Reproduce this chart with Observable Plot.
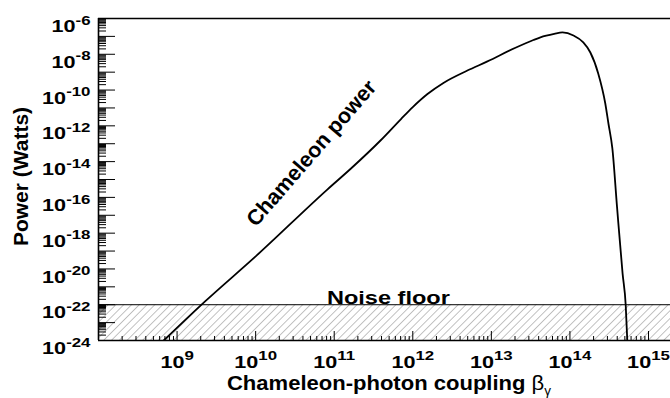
<!DOCTYPE html>
<html><head><meta charset="utf-8">
<script src="https://cdn.jsdelivr.net/npm/d3@7"></script>
<script src="https://cdn.jsdelivr.net/npm/@observablehq/plot@0.6"></script>
<style>body{margin:0;background:#fff} svg{display:block}</style>
</head><body><div id="chart"></div>
<script>
// log10 of chameleon-photon coupling
const couplingExp = [8.83, 9.36, 10.0, 10.915, 11.21, 11.589, 11.85, 12.0, 12.187, 12.39, 12.695, 12.95, 13.3, 13.535, 13.625, 13.8, 13.905, 14.045, 14.17, 14.26, 14.36, 14.45, 14.49, 14.54, 14.60, 14.67, 14.71, 14.73];
// log10 of power (W)
const powerExp    = [-24, -21.8, -19.3, -15.55, -14.4, -12.82, -11.62, -10.95, -10.22, -9.6, -8.91, -8.40, -7.65, -7.2, -7.05, -6.86, -6.78, -6.95, -7.34, -7.90, -9.07, -10.75, -11.87, -13.26, -16.56, -20.25, -22.03, -24];
const noiseFloor = 1e-22;
const xTickLabelExp = [9, 10, 11, 12, 13, 14, 15];
const yTickLabelExp = [-6, -8, -10, -12, -14, -16, -18, -20, -22, -24];
const annotations = [
  {text: "Chameleon power", x: 10 ** 10.71, y: 10 ** -13.54},
  {text: "Noise floor", x: 10 ** 11.69, y: noiseFloor}
];

const xMin = 1e8, xMax = 10 ** 15.28, yMin = 1e-24, yMax = 1e-6;
const curve = couplingExp.map((e, i) => ({x: 10 ** e, y: 10 ** powerExp[i]}));

const majY = d3.range(-24, -5).map(e => 10 ** e);
const minY = d3.range(-24, -6).flatMap(e => d3.range(2, 10).map(m => m * 10 ** e));
const majX = d3.range(8, 16).map(e => 10 ** e).filter(v => v <= xMax);
const minX = d3.range(8, 16).flatMap(e => d3.range(2, 10).map(m => m * 10 ** e)).filter(v => v < xMax);
const fmt = d => "10^" + Math.round(Math.log10(d));
const FONT = "Liberation Sans, Arial, Helvetica, sans-serif";

const svg = Plot.plot({
  width: 670, height: 398,
  marginLeft: 98, marginRight: 0, marginTop: 18, marginBottom: 58,
  x: {type: "log", domain: [xMin, xMax]},
  y: {type: "log", domain: [yMin, yMax]},
  style: {fontFamily: FONT, color: "black", background: "white", overflow: "visible"},
  marks: [
    Plot.rect([noiseFloor], {x1: xMin, x2: xMax, y1: yMin, y2: d => d, fill: "url(#hatch)"}),
    Plot.ruleY([noiseFloor], {stroke: "black", strokeWidth: 1}),
    Plot.line(curve, {x: "x", y: "y", curve: "monotone-x", stroke: "black", strokeWidth: 1.8, clip: true}),
    Plot.axisY(majY, {tickSize: -17, tickFormat: () => "", strokeWidth: 1, label: null}),
    Plot.axisY(minY, {tickSize: -8, tickFormat: () => "", strokeWidth: 1, label: null}),
    Plot.axisX(majX, {tickSize: -9, tickFormat: () => "", strokeWidth: 1, label: null}),
    Plot.axisX(minX, {tickSize: -4, tickFormat: () => "", strokeWidth: 1, label: null}),
    Plot.axisY(yTickLabelExp.map(e => 10 ** e), {tickSize: 0, tickPadding: 8, dy: 8.5, tickFormat: fmt, fontSize: 16, fontWeight: "bold", label: null}),
    Plot.axisX(xTickLabelExp.map(e => 10 ** e), {tickSize: 0, tickPadding: 16, tickFormat: fmt, fontSize: 16, fontWeight: "bold", label: null}),
    Plot.ruleY([yMax, yMin], {stroke: "black", strokeWidth: 1.6}),
    Plot.ruleX([xMin], {stroke: "black", strokeWidth: 1.6}),
    Plot.text(annotations.slice(0, 1), {x: "x", y: "y", text: "text", rotate: -49, fontSize: 21.5, fontWeight: "bold"}),
    Plot.text(annotations.slice(1), {x: "x", y: "y", text: "text", lineAnchor: "bottom", dy: -1, fontSize: 19, fontWeight: "bold"})
  ]
});

const s = d3.select(svg);
const defs = s.insert("defs", ":first-child");
const pat = defs.append("pattern").attr("id", "hatch").attr("patternUnits", "userSpaceOnUse")
  .attr("width", 5.5).attr("height", 5.5).attr("patternTransform", "rotate(45)");
pat.append("line").attr("x1", 0).attr("y1", 0).attr("x2", 0).attr("y2", 5.5)
  .attr("stroke", "#333").attr("stroke-width", 0.6);

function stretch(el, k) {
  const tr = el.getAttribute("transform");
  if (tr && /^translate\([^)]*\)/.test(tr)) {
    el.setAttribute("transform", tr.replace(/^(translate\([^)]*\))/, `$1 scale(${k},1)`));
  } else {
    const x = +(el.getAttribute("x") || 0), y = +(el.getAttribute("y") || 0);
    el.setAttribute("transform", `${tr || ""} translate(${x},${y}) scale(${k},1) translate(${-x},${-y})`);
  }
}

// superscripts on tick labels
s.selectAll("text").each(function() {
  const t = this.textContent;
  if (/^10\^-?\d+$/.test(t)) {
    const [b, e] = t.split("^");
    const el = d3.select(this);
    el.text(null);
    el.append("tspan").text(b);
    el.append("tspan").attr("dy", -7.5).attr("font-size", 12.5).text(e);
    stretch(this, 1.35);
  } else if (t === "Noise floor") {
    stretch(this, 1.24);
  }
});

// axis titles
s.append("text").attr("transform", "translate(20,176.5) rotate(-90)")
  .attr("text-anchor", "middle").attr("dominant-baseline", "central")
  .attr("font-family", FONT).attr("font-weight", "bold").attr("font-size", 21)
  .text("Power (Watts)");
const xt = s.append("text").attr("transform", "translate(389,389.5) scale(1.13,1)").attr("text-anchor", "middle")
  .attr("font-family", FONT).attr("font-size", 19.5);
xt.append("tspan").attr("font-weight", "bold").text("Chameleon-photon coupling ");
xt.append("tspan").text("β");
xt.append("tspan").attr("dy", 5).attr("font-size", 12).text("γ");

document.getElementById("chart").append(svg);
</script>
</body></html>
